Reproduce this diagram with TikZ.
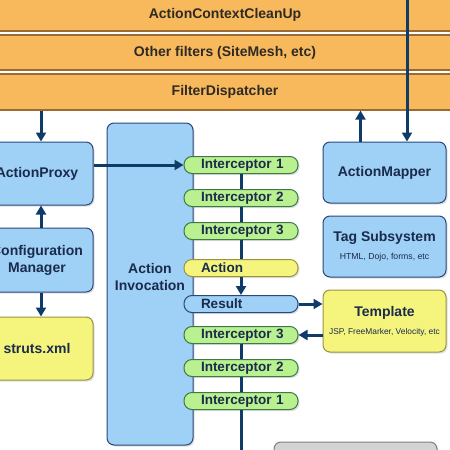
\documentclass[tikz,border=0pt]{standalone}
\usepackage{fontspec}
\setmainfont{Liberation Sans}
\usetikzlibrary{arrows.meta,shadows}

\definecolor{bandorange}{HTML}{F8B95C}
\definecolor{bandedge}{HTML}{9C6B34}
\definecolor{bandtext}{HTML}{2E2A24}
\definecolor{boxblue}{HTML}{9FD0F6}
\definecolor{boxedge}{HTML}{28497C}
\definecolor{navytext}{HTML}{1A2B4C}
\definecolor{boxyellow}{HTML}{F5F57E}
\definecolor{yellowedge}{HTML}{9A9440}
\definecolor{pillgreen}{HTML}{B9F090}
\definecolor{greenedge}{HTML}{3D7A45}
\definecolor{arrownavy}{HTML}{0F3B69}
\definecolor{grayfill}{HTML}{D3D3D3}
\definecolor{grayedge}{HTML}{808080}

\def\boxwidth{123pt}
\def\pillwidth{96pt}

\begin{document}
\begin{tikzpicture}[x=1pt,y=-1pt,>={Triangle[width=10pt,length=9pt]}]
    \tikzstyle{every node}=[font=\bfseries\fontsize{14}{17}\selectfont]
    \tikzstyle{band}=[rectangle,fill=bandorange,draw=bandedge,line width=1.2pt,minimum width=480pt,text=bandtext,inner sep=0pt]
    \tikzstyle{box}=[rectangle,rounded corners=7pt,line width=1pt,text=navytext,align=center,inner sep=0pt,drop shadow={opacity=0.25,shadow xshift=1.5pt,shadow yshift=-1.5pt}]
    \tikzstyle{blue box}=[box,fill=boxblue,draw=boxedge]
    \tikzstyle{yellow box}=[box,fill=boxyellow,draw=yellowedge]
    \tikzstyle{pill}=[rectangle,rounded corners=8pt,minimum height=17pt,text width=\pillwidth,align=left,inner xsep=9pt,inner ysep=0pt,line width=1pt,text=navytext,font=\bfseries\fontsize{13.5}{15}\selectfont,execute at begin node=\hspace*{8pt},drop shadow={opacity=0.25,shadow xshift=1.5pt,shadow yshift=-1.5pt}]
    \tikzstyle{interceptor}=[pill,fill=pillgreen,draw=greenedge]
    \tikzstyle{action pill}=[pill,fill=boxyellow,draw=yellowedge]
    \tikzstyle{result pill}=[pill,fill=boxblue,draw=boxedge]
    \tikzstyle{flow}=[->,draw=arrownavy,line width=3pt]
    \tikzstyle{link}=[draw=arrownavy,line width=3pt]

    \useasboundingbox (0,0) rectangle (450,450);
    \clip (0,0) rectangle (450,450);

    % Draw the filter bands
    \node[band,minimum height=33pt] (CleanUp) at (225,14.5) {ActionContextCleanUp};
    \node[band,minimum height=35pt] (Filters) at (225,52.5) {Other filters (SiteMesh, etc)};
    \node[band,minimum height=36pt] (Dispatcher) at (225,92) {FilterDispatcher};

    % Draw the left column
    \node[blue box,minimum width=112pt,minimum height=63pt] (Proxy) at (37,173.5) {ActionProxy};
    \node[blue box,minimum width=112pt,minimum height=64pt] (Config) at (37,260) {Configuration\\Manager};
    \node[yellow box,minimum width=112pt,minimum height=63pt] (Struts) at (37,348.5) {struts.xml};

    % Draw the invocation box and its interceptors
    \node[blue box,minimum width=86pt,minimum height=322pt,
          label={[yshift=7pt,align=center,text=navytext]center:Action\\Invocation}] (Invocation) at (150,284) {};
    \node[interceptor] (I-1) at (241,165) {Interceptor 1};
    \node[interceptor] (I-2) at (241,198) {Interceptor 2};
    \node[interceptor] (I-3) at (241,231) {Interceptor 3};
    \node[action pill] (Action) at (241,268) {Action};
    \node[result pill] (Result) at (241,304) {Result};
    \node[interceptor] (R-3) at (241,335) {Interceptor 3};
    \node[interceptor] (R-2) at (241,368) {Interceptor 2};
    \node[interceptor] (R-1) at (241,401) {Interceptor 1};

    % Draw the right column
    \node[blue box,minimum width=\boxwidth,minimum height=61pt] (Mapper) at (384.5,172.5) {ActionMapper};
    \node[blue box,minimum width=\boxwidth,minimum height=61pt] (Tags) at (384.5,246.5)
        {Tag Subsystem\\[1pt]{\mdseries\fontsize{8.7}{10}\selectfont HTML, Dojo, forms, etc}};
    \node[yellow box,minimum width=\boxwidth,minimum height=62pt] (Template) at (384.5,321)
        {Template\\[1pt]{\mdseries\fontsize{8.4}{10}\selectfont JSP, FreeMarker, Velocity, etc}};
    \node[box,fill=grayfill,draw=grayedge,minimum width=163pt,minimum height=56pt] (Next) at (355.5,470) {};

    % Connect the filters with the mapper and the proxy
    \coordinate (request) at (407,-5);
    \draw[flow] (request) -- (request |- Mapper.north);
    \draw[flow] ([xshift=-24pt]Mapper.north) -- ([xshift=-24pt]Mapper.north |- Dispatcher.south);
    \draw[flow] ([xshift=4pt]Proxy.north |- Dispatcher.south) -- ([xshift=4pt]Proxy.north);
    \draw[flow] ([xshift=4pt]Config.north) -- ([xshift=4pt]Proxy.south);
    \draw[flow] ([xshift=4pt]Config.south) -- ([xshift=4pt]Struts.north);
    \draw[flow] (Proxy.east |- I-1.west) -- (I-1.west);

    % Walk down the interceptor stack
    \draw[link] (I-1.south) -- (I-2.north);
    \draw[link] (I-2.south) -- (I-3.north);
    \draw[link] (I-3.south) -- (Action.north);
    \draw[flow] (Action.south) -- (Result.north);
    \draw[flow] (Result.east) -- (Result.east -| Template.west);
    \draw[flow] (Template.west |- R-3.east) -- (R-3.east);
    \draw[link] (R-3.south) -- (R-2.north);
    \draw[link] (R-2.south) -- (R-1.north);
    \coordinate (exit) at (241,460);
    \draw[link] (R-1.south) -- (exit);
\end{tikzpicture}
\end{document}
